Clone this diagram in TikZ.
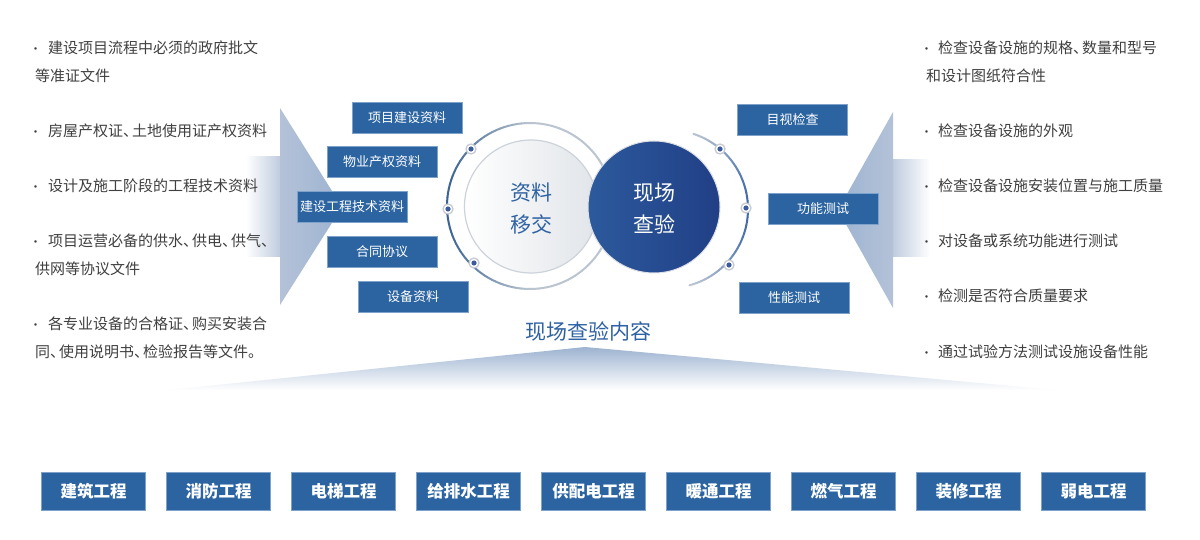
\documentclass[tikz,border=0pt]{standalone}
\usepackage{fontspec}
\setmainfont{Noto Sans CJK SC}
\definecolor{boxblue}{HTML}{2B64A1}
\definecolor{boxedge}{HTML}{7FA2CA}
\definecolor{txtgray}{HTML}{404040}
\definecolor{titleblue}{HTML}{2F62A3}
\definecolor{ringdark}{HTML}{35608E}
\definecolor{ringlight}{HTML}{CDD3DA}
\definecolor{arcblue}{HTML}{3A64A5}
\definecolor{dotblue}{HTML}{3A5C9E}
\definecolor{halo}{HTML}{C6CBD3}
\definecolor{arrowA}{HTML}{B4C2D8}
\definecolor{arrowB}{HTML}{9DB3D1}
\definecolor{shaft}{HTML}{BCC9DD}
\definecolor{circA}{HTML}{2C5A9C}
\definecolor{circB}{HTML}{213F86}
\newcommand{\bdot}[1]{\makebox[#1][l]{\hspace{-5.5pt}{\fontsize{12}{12}\selectfont ·}}}
\newcommand{\dun}{\makebox[9pt][l]{、}}
\begin{document}
\begin{tikzpicture}[x=1pt,y=-1pt,
  bx/.style={fill=boxblue,draw=boxedge,line width=0.6pt,text=white,inner sep=0pt,font=\fontsize{13}{13}\selectfont},
  sbox/.style={bx,minimum width=110pt,minimum height=31pt},
  bbox/.style={bx,minimum width=104pt,minimum height=38pt,font=\fontsize{16.5}{16.5}\selectfont\bfseries},
  txt/.style={anchor=west,inner sep=0pt,text=txtgray,font=\fontsize{15}{15}\selectfont},
  ringdot/.style={circle,minimum size=10pt,inner sep=0pt,draw=halo,line width=1.3pt,fill=white,
     path picture={\fill[dotblue] (path picture bounding box.center) circle (2.6pt);}},
  ctext/.style={align=center,inner sep=0pt,font=\fontsize{21}{32}\selectfont}
]
\useasboundingbox (0,0) rectangle (1200,540);
\fill[white] (0,0) rectangle (1200,540);

% left arrow
\shade[left color=white,right color=shaft] (246,157) rectangle (282,257);
\shade[left color=arrowA,right color=arrowB] (280,108) -- (342,207) -- (280,305) -- cycle;
% right arrow
\shade[left color=shaft,right color=white] (891,160) rectangle (930,257);
\shade[left color=arrowB,right color=arrowA] (893,112) -- (838,210) -- (893,308) -- cycle;
% bottom triangle
\shade[top color=arrowB,bottom color=white] (585,347) -- (1056,390) -- (168,390) -- cycle;

% left ring
\foreach \a in {0,3,...,357}{
  \pgfmathsetmacro\p{max(0,-cos(\a+1.5))*85+12}
  \pgfmathsetmacro\xa{530+83*cos(\a)}
  \pgfmathsetmacro\ya{206-83*sin(\a)}
  \pgfmathsetmacro\xb{530+83*cos(\a+3)}
  \pgfmathsetmacro\yb{206-83*sin(\a+3)}
  \draw[line width=2pt,line cap=round,draw=ringdark!\p!ringlight] (\xa,\ya) -- (\xb,\yb);
}
% left inner circle
\node[circle,minimum size=133pt,inner sep=0pt,draw=ringlight,line width=1.2pt,
      left color=white,right color=ringlight!60!white] (lc) at (531,206.5) {};
% right circle
\node[circle,minimum size=132pt,inner sep=0pt,draw=ringlight!70!white,line width=1pt,
      left color=circA,right color=circB] (rc) at (654,207) {};
\node[ctext,text=titleblue] (lct) at (531,209) {资料\\移交};
\node[ctext,text=white] (rct) at (654,209) {现场\\查验};

% right arc
\foreach \a in {-75,-72,...,70}{
  \pgfmathsetmacro\p{max(0,cos(\a+1.5))^2*90+5}
  \pgfmathsetmacro\xa{669+79*cos(\a)}
  \pgfmathsetmacro\ya{209-79*sin(\a)}
  \pgfmathsetmacro\xb{669+79*cos(\a+3)}
  \pgfmathsetmacro\yb{209-79*sin(\a+3)}
  \draw[line width=2pt,line cap=round,draw=arcblue!\p!ringlight] (\xa,\ya) -- (\xb,\yb);
}

% ring dots
\node[ringdot] (ld1) at (471,149) {};
\node[ringdot] (ld2) at (448,209) {};
\node[ringdot] (ld3) at (474,263) {};
\node[ringdot] (rd1) at (720,149) {};
\node[ringdot] (rd2) at (746,208) {};
\node[ringdot] (rd3) at (729,265) {};

% left boxes
\node[sbox] (l1) at (407,117.5) {项目建设资料};
\node[sbox] (l2) at (382,162) {物业产权资料};
\node[sbox] (l3) at (352,206.5) {建设工程技术资料};
\node[sbox] (l4) at (382,251.5) {合同协议};
\node[sbox] (l5) at (413,296.5) {设备资料};
% right boxes
\node[sbox] (r1) at (792.5,119.5) {目视检查};
\node[sbox] (r2) at (823,209) {功能测试};
\node[sbox] (r3) at (794,297.5) {性能测试};

% title
\node[inner sep=0pt,text=titleblue,font=\fontsize{21}{21}\selectfont] (title) at (588,331) {现场查验内容};

% left texts
\node[txt] (t1) at (35,48) {\bdot{13pt}建设项目流程中必须的政府批文};
\node[txt] (t1b) at (35,76) {等准证文件};
\node[txt] (t2) at (35,131) {\bdot{13pt}房屋产权证\dun 土地使用证产权资料};
\node[txt] (t3) at (35,186) {\bdot{13pt}设计及施工阶段的工程技术资料};
\node[txt] (t4) at (35,241) {\bdot{13pt}项目运营必备的供水\dun 供电\dun 供气\dun};
\node[txt] (t4b) at (35,269) {供网等协议文件};
\node[txt] (t5) at (35,324) {\bdot{13pt}各专业设备的合格证\dun 购买安装合};
\node[txt] (t5b) at (35,352) {同\dun 使用说明书\dun 检验报告等文件。};
% right texts
\node[txt] (s1) at (926,48) {\bdot{12pt}检查设备设施的规格\dun 数量和型号};
\node[txt] (s1b) at (926,76) {和设计图纸符合性};
\node[txt] (s2) at (926,131) {\bdot{12pt}检查设备设施的外观};
\node[txt] (s3) at (926,186) {\bdot{12pt}检查设备设施安装位置与施工质量};
\node[txt] (s4) at (926,241) {\bdot{12pt}对设备或系统功能进行测试};
\node[txt] (s5) at (926,296) {\bdot{12pt}检测是否符合质量要求};
\node[txt] (s6) at (926,352) {\bdot{12pt}通过试验方法测试设施设备性能};

% bottom boxes
\foreach \t [count=\i] in {建筑工程,消防工程,电梯工程,给排水工程,供配电工程,暖通工程,燃气工程,装修工程,弱电工程}{
  \node[bbox] (b\i) at ({93.5+125*(\i-1)},491) {\t};
}
\end{tikzpicture}
\end{document}
